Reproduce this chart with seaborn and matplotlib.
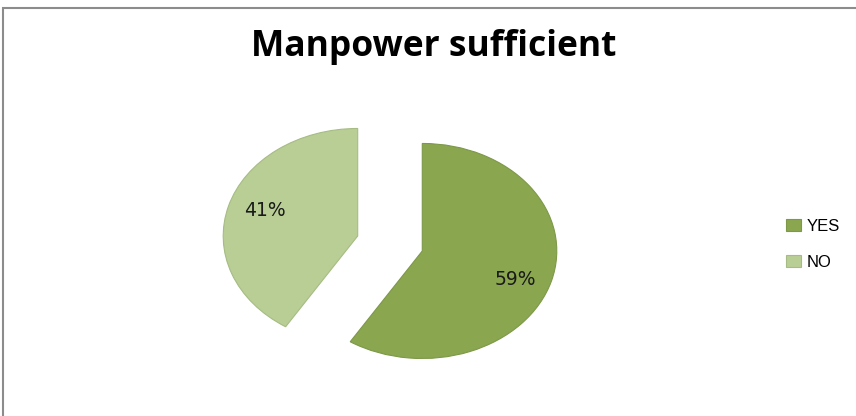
import matplotlib
matplotlib.use("Agg")
import matplotlib.pyplot as plt
import matplotlib.patches as mpatches
import seaborn as sns

categories = ["YES", "NO"]
values = [59, 41]
colors = ["#8AA64F", "#B8CE95"]
edges = ["#7D9848", "#A6BC84"]
title = "Manpower sufficient"

sns.set_theme(style="white")
plt.rcParams['font.family'] = ['DejaVu Sans']

fig = plt.figure(figsize=(8.56, 4.16), dpi=100)
fig.patch.set_facecolor("white")

ax = fig.add_axes([0.2042, 0.0012, 0.5028, 0.827])
wedges, texts, autotexts = ax.pie(
    values, colors=colors, startangle=90, counterclock=False,
    explode=[0.25, 0.25], autopct=lambda p: f"{p:.0f}%", pctdistance=0.72,
    wedgeprops=dict(linewidth=0.8), textprops=dict(fontsize=13.5, color="#1a1a1a"),
)
for w, ec in zip(wedges, edges):
    w.set_edgecolor(ec)
# small vertical nudges of the percentage labels (data units)
for t, dy in zip(autotexts, [-0.06, 0.04]):
    x, y = t.get_position()
    t.set_position((x, y + dy))
ax.set_aspect("auto")
ax.set_xlim(-1.6, 1.6)
ax.set_ylim(-1.6, 1.6)
ax.axis("off")

fig.text(0.507, 0.888, title, ha="center", va="center", fontsize=25.5,
         fontweight="bold", color="black", family=["Open Sans", "DejaVu Sans"])

handles = [mpatches.Patch(facecolor=c, edgecolor=e, linewidth=0.8) for c, e in zip(colors, edges)]
leg = fig.legend(handles, categories, loc="center left", bbox_to_anchor=(0.905, 0.412),
                 frameon=False, handlelength=0.9, handleheight=0.72,
                 handletextpad=0.3, labelspacing=1.25, borderpad=0.2,
                 prop=dict(family=["Liberation Sans", "DejaVu Sans"], size=12))
for t in leg.get_texts():
    t.set_color("black")

border = mpatches.Rectangle((3 / 856, -0.1), 1.2, (416 - 8) / 416 + 0.1,
                            transform=fig.transFigure, fill=False,
                            edgecolor="#8C8C8C", linewidth=1.5, clip_on=False)
fig.add_artist(border)

fig.savefig("out.png", dpi=100)
